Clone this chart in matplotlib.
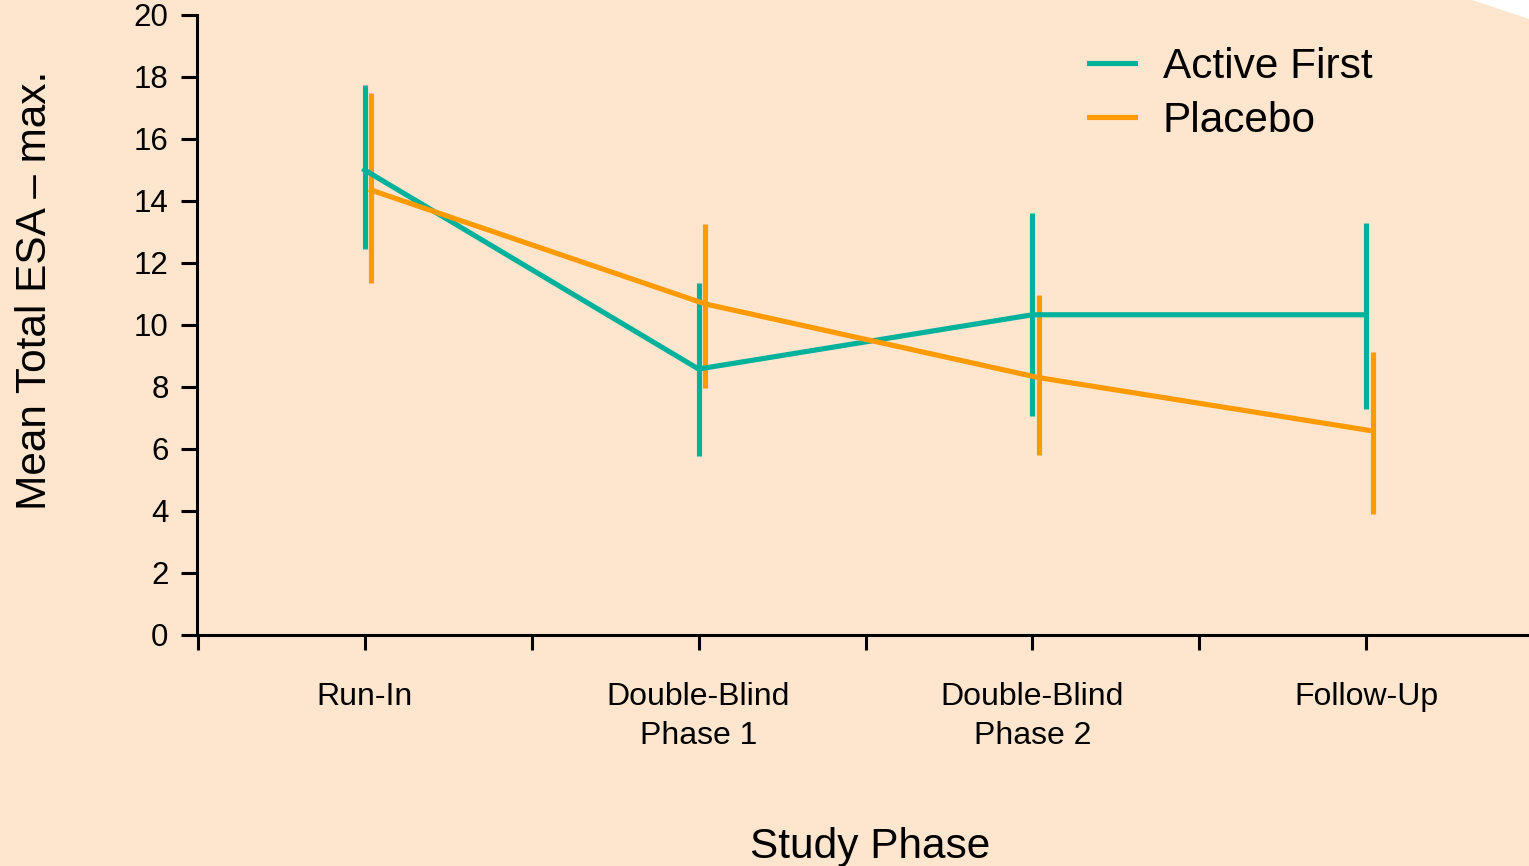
import matplotlib
matplotlib.use("Agg")
import matplotlib.pyplot as plt
from matplotlib.patches import Polygon
from matplotlib.lines import Line2D
from matplotlib.ticker import FixedLocator

plt.rcParams['font.family'] = ['Liberation Sans', 'DejaVu Sans']

phases = ["Run-In", "Double-Blind\nPhase 1", "Double-Blind\nPhase 2", "Follow-Up"]
series_names = ["Active First", "Placebo"]

active_mean = [15.0, 8.58, 10.33, 10.33]
active_low = [12.45, 5.77, 7.07, 7.29]
active_high = [17.75, 11.35, 13.62, 13.30]

placebo_mean = [14.35, 10.68, 8.30, 6.58]
placebo_low = [11.36, 7.98, 5.81, 3.90]
placebo_high = [17.47, 13.26, 10.96, 9.14]

yticks = [0, 2, 4, 6, 8, 10, 12, 14, 16, 18, 20]

BG = '#FEE5CD'
TEAL = '#00B19C'
ORANGE = '#FF9A00'

W, H = 1529, 866
fig = plt.figure(figsize=(W / 100, H / 100), dpi=100, facecolor=BG)

# white cut corner at top right
fig.patches.append(Polygon([[1472 / W, 1.0], [1.0, 1.0], [1.0, 1 - 19 / H]],
                           closed=True, transform=fig.transFigure,
                           facecolor='white', edgecolor='none', zorder=0))

ax = fig.add_axes([197 / W, 1 - 635 / H, 1 - 197 / W, (635 - 15) / H])
ax.set_facecolor(BG)

x = list(range(len(phases)))
xa = [v + 0.0 for v in x]
xp = [v + 0.02 for v in x]


def errs(mean, low, high):
    return [[m - l for m, l in zip(mean, low)], [h - m for m, h in zip(mean, high)]]


LW = 3.7
ax.errorbar(xa, active_mean, yerr=errs(active_mean, active_low, active_high),
            color=TEAL, lw=LW, elinewidth=LW, capsize=0, zorder=3)
ax.errorbar(xp, placebo_mean, yerr=errs(placebo_mean, placebo_low, placebo_high),
            color=ORANGE, lw=LW, elinewidth=LW, capsize=0, zorder=3)

ax.set_xlim(-0.502, 3.487)
ax.set_ylim(0, 20)

for s in ['top', 'right']:
    ax.spines[s].set_visible(False)
for s in ['left', 'bottom']:
    ax.spines[s].set_linewidth(2.2)

ax.set_yticks(yticks)
ax.set_yticklabels([str(v) for v in yticks], fontsize=22.5)
ax.set_xticks(x)
ax.set_xticklabels(phases, fontsize=23, linespacing=1.38)
ax.xaxis.set_minor_locator(FixedLocator([-0.5, 0.5, 1.5, 2.5]))
ax.tick_params(axis='y', length=11.5, width=2.2, pad=9, direction='out')
ax.tick_params(axis='x', which='both', length=11, width=2.2, pad=23, direction='out')

handles = [Line2D([], [], color=TEAL, lw=LW), Line2D([], [], color=ORANGE, lw=LW)]
fig.legend(handles, series_names, loc='upper left', bbox_to_anchor=(1089 / W, 1 - 47 / H),
           frameon=False, fontsize=30.5, handlelength=1.08, handletextpad=0.66,
           labelspacing=0.32, borderpad=0, borderaxespad=0)

fig.text(35 / W, 1 - 290 / H, "Mean Total ESA \u2013 max.", rotation=90,
         ha='center', va='center', fontsize=30.5)
fig.text(870 / W, 1 - 858 / H, "Study Phase", ha='center', va='baseline', fontsize=30.5)

fig.savefig("out.png", dpi=100, facecolor=BG)
